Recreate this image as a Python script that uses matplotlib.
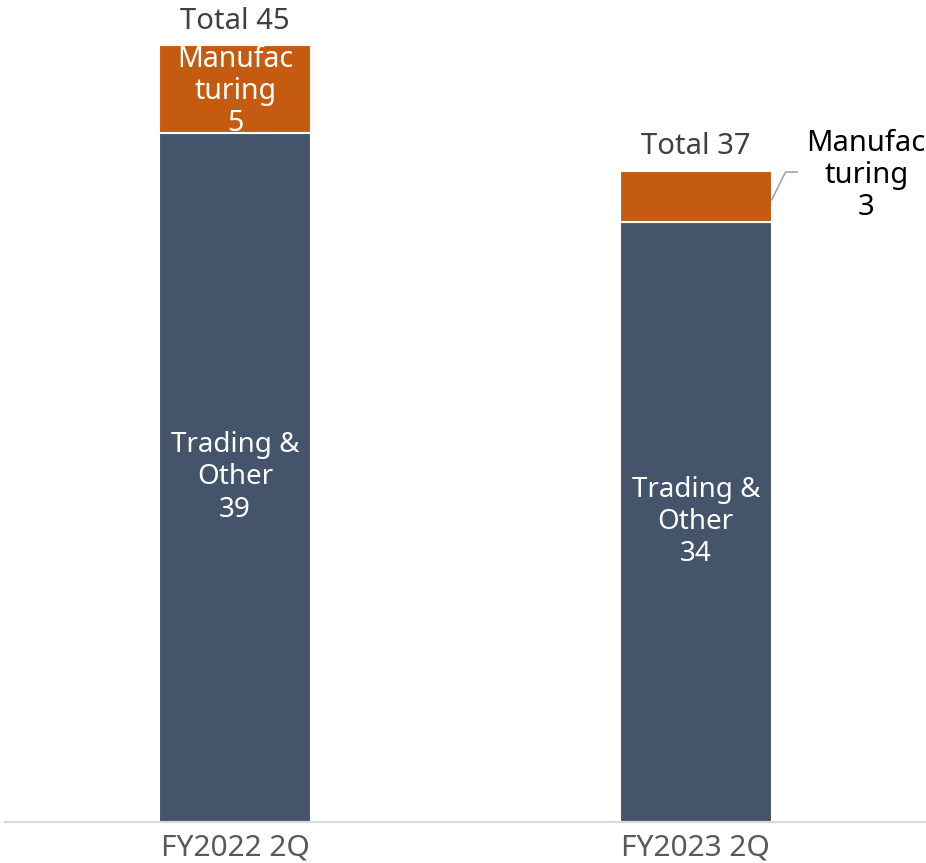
import matplotlib
matplotlib.use("Agg")
import matplotlib.pyplot as plt

categories = ["FY2022 2Q", "FY2023 2Q"]
trading = [39.5, 34.4]
manufacturing = [5.0, 2.9]
trading_labels = ["39", "34"]
manuf_labels = ["5", "3"]
total_labels = ["45", "37"]

plt.rcParams['font.family'] = ['Noto Sans', 'DejaVu Sans']

C_TRADE = "#44546a"
C_MANUF = "#c55a11"

fig = plt.figure(figsize=(9.26, 8.63), dpi=100)
ax = fig.add_axes([5/926, 41/863, 921/926, 822/863])

x = list(range(len(categories)))
w = 0.33
ax.bar(x, trading, width=w, color=C_TRADE, edgecolor="white", linewidth=1.5)
ax.bar(x, manufacturing, width=w, bottom=trading, color=C_MANUF, edgecolor="white", linewidth=1.5)

ax.set_xlim(-0.5, 1.5)
ax.set_ylim(0, 47.1)
for s in ["top", "right", "left"]:
    ax.spines[s].set_visible(False)
ax.spines["bottom"].set_color("#d9d9d9")
ax.spines["bottom"].set_linewidth(1.5)
ax.set_yticks([])
ax.set_xticks(x)
ax.set_xticklabels(categories, fontsize=21.5, color="#595959")
ax.tick_params(axis="x", length=0, pad=8)

fs = 20
for i in x:
    ax.text(i, trading[i] / 2, f"Trading &\nOther\n{trading_labels[i]}", ha="center", va="center",
            color="white", fontsize=fs, linespacing=1.2)
    top = trading[i] + manufacturing[i]
    ax.annotate(f"Total {total_labels[i]}", (i, top), xytext=(0, 12), textcoords="offset points",
                ha="center", va="baseline", color="#404040", fontsize=21)

# Manufacturing label inside first bar
ax.text(0, trading[0] + manufacturing[0] * 0.47, f"Manufac\nturing\n{manuf_labels[0]}", ha="center", va="center",
        color="white", fontsize=20.5, linespacing=1.14)

# Manufacturing label outside second bar with leader line
edge = 1 + w / 2
y0 = trading[1] + manufacturing[1] * 0.43
y1 = trading[1] + manufacturing[1] * 0.98
ax.plot([edge, edge + 0.03, edge + 0.055], [y0, y1, y1], color="#a6a6a6", lw=1.2, clip_on=False)
ax.text(1.37, y1 - 0.2, f"Manufac\nturing\n{manuf_labels[1]}", ha="center", va="center",
        color="black", fontsize=21, linespacing=1.12)

fig.savefig("out.png", dpi=100)
